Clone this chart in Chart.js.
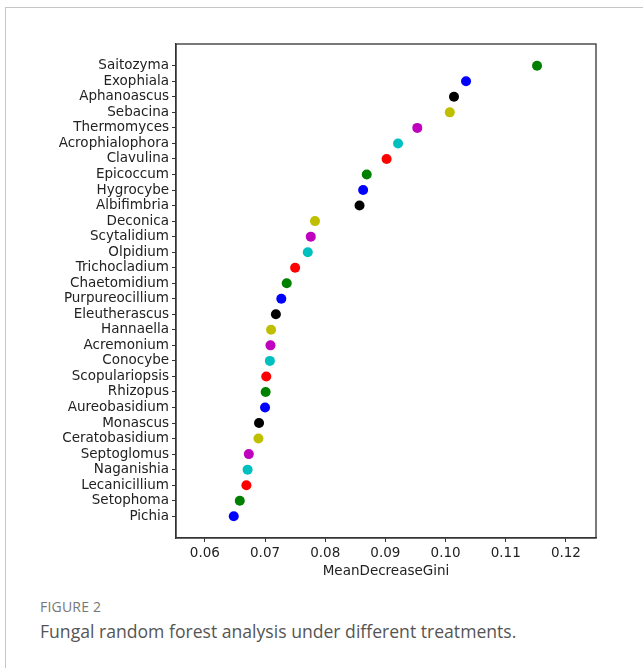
<!DOCTYPE html>
<html>
<head>
<meta charset="utf-8">
<script src="https://cdn.jsdelivr.net/npm/chart.js@4"></script>
<style>
  body { margin: 0; background: #fff; width: 643px; height: 668px; overflow: hidden; position: relative; }
  #card { position: absolute; left: 5px; top: 7px; width: 700px; height: 700px;
          border-top: 1px solid #c6c6c6; border-left: 1px solid #c6c6c6; }
  #chart { position: absolute; left: 0; top: 0; }
  #fig { position: absolute; left: 40px; top: 597px; font-family: "Open Sans", sans-serif;
         font-size: 14px; color: #777; letter-spacing: 0.2px; }
  #caption { position: absolute; left: 40px; top: 619px; font-family: "Open Sans", sans-serif;
             font-size: 17.6px; color: #555; }
</style>
</head>
<body>
<div id="card"></div>
<canvas id="chart" width="643" height="590"></canvas>
<div id="fig">FIGURE 2</div>
<div id="caption">Fungal random forest analysis under different treatments.</div>
<script>
// 由上而下的屬名
var genera = ["Saitozyma", "Exophiala", "Aphanoascus", "Sebacina", "Thermomyces",
    "Acrophialophora", "Clavulina", "Epicoccum", "Hygrocybe", "Albifimbria",
    "Deconica", "Scytalidium", "Olpidium", "Trichocladium", "Chaetomidium",
    "Purpureocillium", "Eleutherascus", "Hannaella", "Acremonium", "Conocybe",
    "Scopulariopsis", "Rhizopus", "Aureobasidium", "Monascus", "Ceratobasidium",
    "Septoglomus", "Naganishia", "Lecanicillium", "Setophoma", "Pichia"];
var gini = [0.1152, 0.1034, 0.1014, 0.1007, 0.0953,
    0.0921, 0.0902, 0.0869, 0.0863, 0.0857,
    0.0783, 0.0776, 0.0771, 0.0750, 0.0736,
    0.0727, 0.0718, 0.0710, 0.0709, 0.0708,
    0.0702, 0.0701, 0.0700, 0.0690, 0.0689,
    0.0673, 0.0671, 0.0669, 0.0658, 0.0648];
var xTicks = [0.06, 0.07, 0.08, 0.09, 0.10, 0.11, 0.12];

// matplotlib 舊式顏色循環 (由下往上)
var cycle = ["#0000ff", "#008000", "#ff0000", "#00bfbf", "#bf00bf", "#bfbf00", "#000000"];
var n = genera.length;
var points = gini.map(function(v, i) { return { x: v, y: i }; });
var colors = genera.map(function(g, i) { return cycle[(n - 1 - i) % cycle.length]; });

var tickFont = { family: "DejaVu Sans", size: 13.5 };
var axisColor = "#333";

var frame = {
    id: "frame",
    afterDraw: function(chart) {
        var a = chart.chartArea, ctx = chart.ctx;
        ctx.save();
        ctx.strokeStyle = axisColor;
        ctx.lineWidth = 1.3;
        ctx.strokeRect(a.left, a.top, a.right - a.left, a.bottom - a.top);
        ctx.restore();
    }
};

new Chart(document.getElementById("chart").getContext("2d"), {
    type: "scatter",
    data: {
        datasets: [{
            data: points,
            pointBackgroundColor: colors,
            pointBorderWidth: 0,
            pointRadius: 5
        }]
    },
    options: {
        responsive: false,
        animation: false,
        layout: { padding: { top: 44, right: 47, left: 0, bottom: 0 } },
        plugins: { legend: { display: false }, tooltip: { enabled: false } },
        scales: {
            x: {
                type: "linear",
                min: 0.0552,
                max: 0.1250,
                afterBuildTicks: function(axis) {
                    axis.ticks = xTicks.map(function(v) { return { value: v }; });
                },
                afterFit: function(axis) { axis.height = 52; },
                ticks: {
                    font: tickFont, color: "#222", padding: 3, maxRotation: 0,
                    callback: function(v) { return v.toFixed(2); }
                },
                grid: { drawOnChartArea: false, drawTicks: true, tickLength: 4, color: axisColor },
                border: { display: true, color: axisColor, width: 1.3 },
                title: {
                    display: true, text: "MeanDecreaseGini", font: tickFont, color: "#222",
                    padding: { top: 4, bottom: 10 }
                }
            },
            y: {
                type: "linear",
                reverse: true,
                min: -1.4,
                max: n - 1 + 1.4,
                afterBuildTicks: function(axis) {
                    axis.ticks = genera.map(function(g, i) { return { value: i }; });
                },
                afterFit: function(axis) { axis.width = 176; },
                ticks: {
                    font: tickFont, color: "#222", padding: 3, autoSkip: false,
                    callback: function(v) { return genera[v]; }
                },
                grid: { drawOnChartArea: false, drawTicks: true, tickLength: 4, color: axisColor },
                border: { display: true, color: axisColor, width: 1.3 }
            }
        }
    },
    plugins: [frame]
});
</script>
</body>
</html>
